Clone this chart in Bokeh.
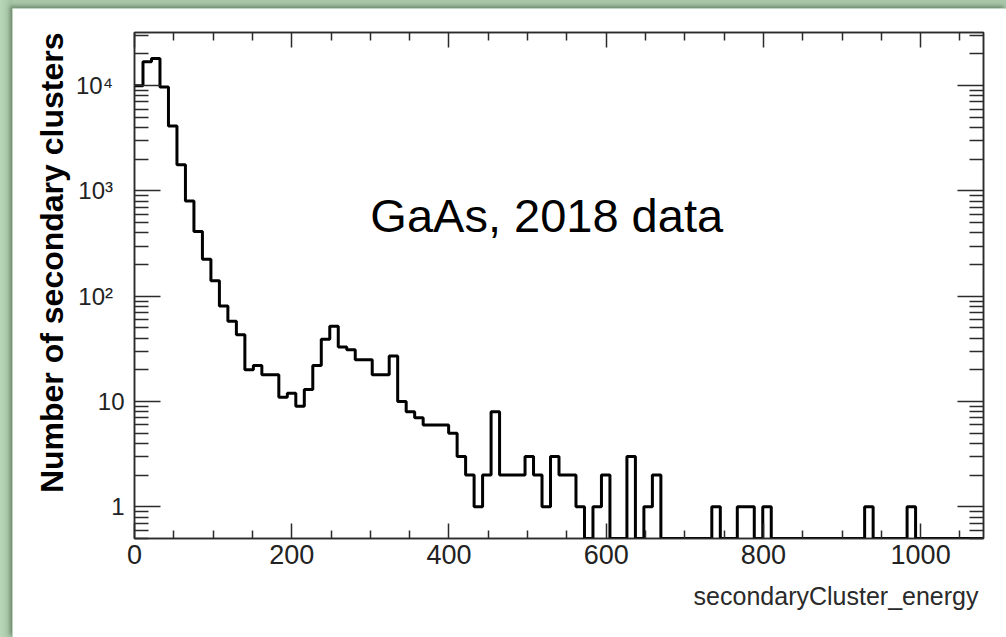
import numpy as np
from bokeh.plotting import figure
from bokeh.models import (Range1d, FixedTicker, LogAxis, LinearAxis, Label,
                          CustomLabelingPolicy, Title)
from bokeh.layouts import column
from bokeh.embed import file_html
from bokeh.resources import INLINE

# ---------------- data ----------------
bin_width = 10.8          # 100 bins from 0 to 1080
counts = [
    10000, 16900, 18100, 9700, 4150, 1770, 805, 412, 225, 140,
    81, 58, 43, 20, 22, 18, 18, 11, 12, 9,
    13, 22, 39, 52, 33, 31, 25, 25, 18, 18,
    27, 10, 8, 7, 6, 6, 6, 5, 3, 2,
    1, 2, 8, 2, 2, 2, 3, 2, 1, 3,
    2, 2, 1, 0, 1, 2, 0, 0, 3, 0,
    1, 2, 0, 0, 0, 0, 0, 0, 1, 0,
    0, 1, 1, 0, 1, 0, 0, 0, 0, 0,
    0, 0, 0, 0, 0, 0, 1, 0, 0, 0,
    0, 1, 0, 0, 0, 0, 0, 0, 0, 0,
]
x_major_ticks = [0, 200, 400, 600, 800, 1000]
x_minor_step = 50
y_decades = [1, 10, 100, 1000, 10000]
y_tick_labels = {1: "1", 10: "10", 100: "10²\u00a0\u2009", 1000: "10³\u00a0\u2009",
                 10000: "10⁴\u00a0\u2009"}
title_text = "GaAs, 2018 data"
x_title = "secondaryCluster_energy"
y_title = "Number of secondary clusters"

X_MAX = 1080
Y_MIN, Y_MAX = 0.5, 3.2e4

# ---------------- derived ----------------
n = len(counts)
edges = np.arange(n + 1) * bin_width
vals = np.maximum(np.array(counts, dtype=float), Y_MIN)
ys = np.append(vals, vals[-1])

x_minor = [float(v) for v in np.arange(0, X_MAX + 1, x_minor_step) if v not in x_major_ticks]
y_minor = []
for d in [0.1] + y_decades:
    for k in range(2, 10):
        t = d * k
        if Y_MIN <= t <= Y_MAX:
            y_minor.append(float(t))

FONT = "Liberation Sans"
AX = "#2b2b2b"

W, H = 994, 629
p = figure(width=W, height=H,
           x_range=Range1d(0, X_MAX), y_range=Range1d(Y_MIN, Y_MAX),
           y_axis_type="log", output_backend="svg", toolbar_location=None,
           min_border_left=122, min_border_right=23,
           min_border_top=24, min_border_bottom=99,
           background_fill_color="white", border_fill_color="white",
           styles={"box-shadow": "-2px -2px 4px rgba(70,95,70,0.6)"})
p.xgrid.visible = False
p.ygrid.visible = False
p.outline_line_color = AX
p.outline_line_width = 1.5

xt = FixedTicker(ticks=x_major_ticks, minor_ticks=x_minor)
yt = FixedTicker(ticks=y_decades, minor_ticks=y_minor)


def common(ax):
    ax.axis_line_color = AX
    ax.axis_line_width = 1.5
    ax.major_tick_line_color = AX
    ax.minor_tick_line_color = AX
    ax.major_tick_line_width = 1.5
    ax.minor_tick_line_width = 1.5
    ax.major_tick_out = 0
    ax.minor_tick_out = 0
    ax.major_label_text_font = FONT
    ax.major_label_text_color = "#222222"


def hide_labels(ax, ticks):
    ax.major_label_overrides = {t: "" for t in ticks}
    ax.major_label_policy = CustomLabelingPolicy(code="return []")
    ax.major_label_text_font_size = "2px"
    ax.major_label_standoff = 0


def style_x(ax, labels=True):
    common(ax)
    ax.ticker = xt
    ax.major_tick_in = 15
    ax.minor_tick_in = 8
    if labels:
        ax.major_label_text_font_size = "27px"
        ax.major_label_standoff = 6
    else:
        hide_labels(ax, x_major_ticks)


def style_y(ax, labels=True):
    common(ax)
    ax.ticker = yt
    ax.major_tick_in = 26
    ax.minor_tick_in = 14
    if labels:
        ax.major_label_text_font_size = "24px"
        ax.major_label_standoff = 10
        ax.major_label_overrides = {k: v for k, v in y_tick_labels.items()}
    else:
        hide_labels(ax, y_decades)


style_x(p.xaxis[0])
style_y(p.yaxis[0])

top_ax = LinearAxis()
style_x(top_ax, labels=False)
p.add_layout(top_ax, "above")
right_ax = LogAxis()
style_y(right_ax, labels=False)
p.add_layout(right_ax, "right")

p.step(edges, ys, mode="after", line_color="black", line_width=3)

p.add_layout(Label(x=300, y=580, text=title_text, text_font=FONT,
                   text_font_size="47px", text_color="black",
                   text_baseline="alphabetic", text_align="left"))

xt_title = Title(text=x_title, align="right", offset=5, standoff=26,
                 text_font=FONT, text_font_size="25px",
                 text_font_style="normal", text_color="#2a2a2a")
p.add_layout(xt_title, "below")
yt_title = Title(text=y_title, align="right", offset=0, standoff=8,
                 text_font=FONT, text_font_size="32px",
                 text_font_style="bold", text_color="black")
p.add_layout(yt_title, "left")

layout = column(p, styles={
    "padding": "8px 0px 0px 12px",
    "background": "linear-gradient(to right, #b9d6b9 0px, #a3c2a3 12px, #abc8ab 13px)",
})

open("out.html", "w").write(file_html(layout, INLINE))
